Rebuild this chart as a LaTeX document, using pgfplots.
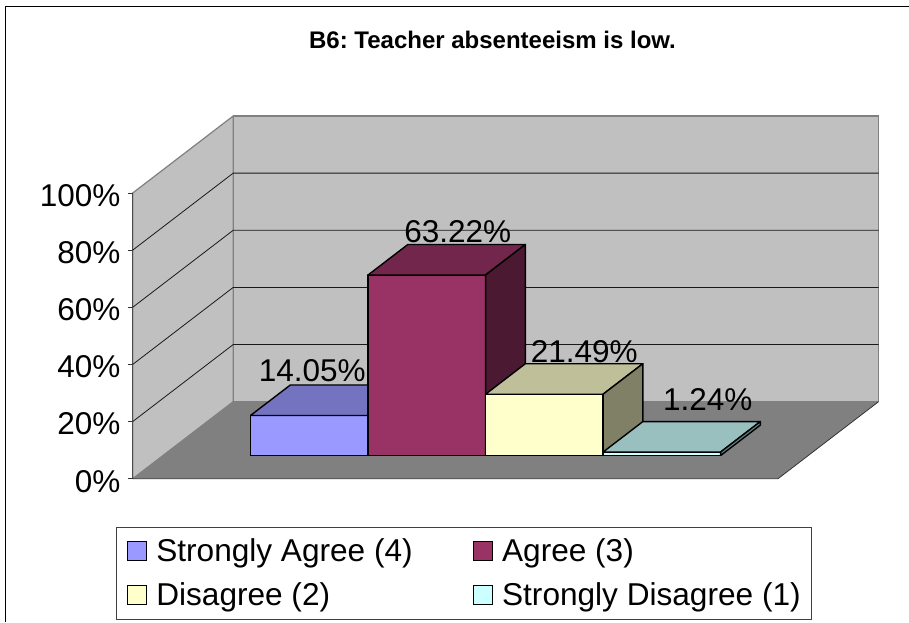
\documentclass[border=0pt]{standalone}
\usepackage{fontspec}
\setmainfont{Liberation Sans}
\usepackage{pgfplots}
\pgfplotsset{compat=1.18}
\definecolor{wall}{RGB}{192,192,192}
\definecolor{floorgray}{RGB}{128,128,128}
\definecolor{cone}{RGB}{153,153,255}
\definecolor{ctwo}{RGB}{153,51,102}
\definecolor{cthree}{RGB}{255,255,204}
\definecolor{cfour}{RGB}{204,255,255}
\newcommand{\bigfont}{\fontsize{31.5}{31.5}\selectfont}
% one 3d bar: x from, x to, value, colour
\newcommand{\threedbar}[4]{
  \addplot3[forget plot,black,line width=1.4pt,line join=round,fill=#4] coordinates {(#1,0.3,0)(#2,0.3,0)(#2,0.3,#3)(#1,0.3,#3)(#1,0.3,0)};
  \addplot3[forget plot,black,line width=1.4pt,line join=round,fill=#4!75!black] coordinates {(#1,0.3,#3)(#2,0.3,#3)(#2,0.696,#3)(#1,0.696,#3)(#1,0.3,#3)};
  \addplot3[forget plot,black,line width=1.4pt,line join=round,fill=#4!50!black] coordinates {(#2,0.3,0)(#2,0.696,0)(#2,0.696,#3)(#2,0.3,#3)(#2,0.3,0)};
}
\pgfplotsset{swatch/.style={legend image code/.code={\draw[black,line width=0.9pt,fill=#1] (0pt,-9.7pt) rectangle (19.5pt,9.7pt);}}}
\begin{document}
\frenchspacing
\begin{tikzpicture}[x=1pt,y=1pt]
\path[use as bounding box] (0,0) rectangle (909,622);
\draw[line width=1.4pt] (5.5,0) -- (5.5,615.5) -- (909,615.5);
\node[anchor=base,font=\bfseries\fontsize{24}{24}\selectfont] at (492.5,573) {B6: Teacher absenteeism is low.};
\begin{axis}[
    at={(132.7pt,143.3pt)},
    anchor=origin,
    x={(1pt,0pt)},
    y={(100.5pt,77pt)},
    z={(0pt,2.857pt)},
    xmin=0, xmax=645.3,
    ymin=0, ymax=1,
    zmin=0, zmax=100,
    clip=false,
    xtick=\empty,
    ytick=\empty,
    ztick={0,20,40,60,80,100},
    zticklabel={\pgfmathprintnumber{\tick}\%},
    /pgf/number format/assume math mode=true,
    ticklabel style={font=\bigfont},
    zticklabel style={anchor=east,inner sep=0pt,xshift=-12pt,yshift=-2.5pt},
    axis line style={draw=none},
    major tick length=0pt,
    legend style={
        at={(axis cs:-16.7,0,-16.8)},
        anchor=north west,
        draw=black!75,
        line width=0.8pt,
        font=\fontsize{31.6}{31.6}\selectfont,
        inner xsep=10.5pt,
        inner ysep=8pt,
        row sep=12pt,
        nodes={inner sep=0pt,anchor=west,text height=26pt,text depth=6pt},
        /tikz/column 1/.style={column sep=9pt},
        /tikz/column 2/.style={column sep=60pt},
        /tikz/column 3/.style={column sep=9pt},
    },
    legend columns=2,
    legend cell align=left,
]
% walls and floor
\addplot3[forget plot,draw=floorgray,line width=1.2pt,fill=wall] coordinates {(0,1,0)(645.3,1,0)(645.3,1,100)(0,1,100)(0,1,0)};
\addplot3[forget plot,draw=floorgray,line width=1.2pt,fill=wall] coordinates {(0,0,0)(0,1,0)(0,1,100)(0,0,100)(0,0,0)};
\addplot3[forget plot,draw=none,fill=floorgray] coordinates {(0,0,0)(645.3,0,0)(645.3,1,0)(0,1,0)(0,0,0)};
\addplot3[forget plot,black!80,line width=0.8pt] coordinates {(0,0,0)(645.3,0,0)(645.3,1,0)};
\addplot3[forget plot,black!70,line width=1pt] coordinates {(0,0,0)(0,0,100)};
% grid
\pgfplotsinvokeforeach{20,40,60,80}{
  \addplot3[forget plot,black!90,line width=0.8pt] coordinates {(0,0,#1)(0,1,#1)(645.3,1,#1)};
}
% tick marks
\pgfplotsinvokeforeach{0,20,40,60,80,100}{
  \addplot3[forget plot,black!80,line width=0.8pt] coordinates {(-5,0,#1)(0,0,#1)};
}
% bars
\threedbar{87.7}{205.2}{14.05}{cone}
\threedbar{205.2}{322.7}{63.22}{ctwo}
\threedbar{322.7}{440.2}{21.49}{cthree}
\threedbar{440.2}{557.7}{1.24}{cfour}
% value labels
\node[anchor=base,font=\bigfont,xshift=3pt,yshift=34pt] at (axis cs:146.45,0.3,14.05) {14.05\%};
\node[anchor=base,font=\bigfont,xshift=31pt,yshift=32.6pt] at (axis cs:263.95,0.3,63.22) {63.22\%};
\node[anchor=base,font=\bigfont,xshift=40pt,yshift=32pt] at (axis cs:381.45,0.3,21.49) {21.49\%};
\node[anchor=base,font=\bigfont,xshift=46pt,yshift=42pt] at (axis cs:498.95,0.3,1.24) {1.24\%};
% legend
\addlegendimage{swatch=cone}
\addlegendentry{Strongly Agree (4)}
\addlegendimage{swatch=ctwo}
\addlegendentry{Agree (3)}
\addlegendimage{swatch=cthree}
\addlegendentry{Disagree (2)}
\addlegendimage{swatch=cfour}
\addlegendentry{Strongly Disagree (1)}
\end{axis}
\end{tikzpicture}
\end{document}
